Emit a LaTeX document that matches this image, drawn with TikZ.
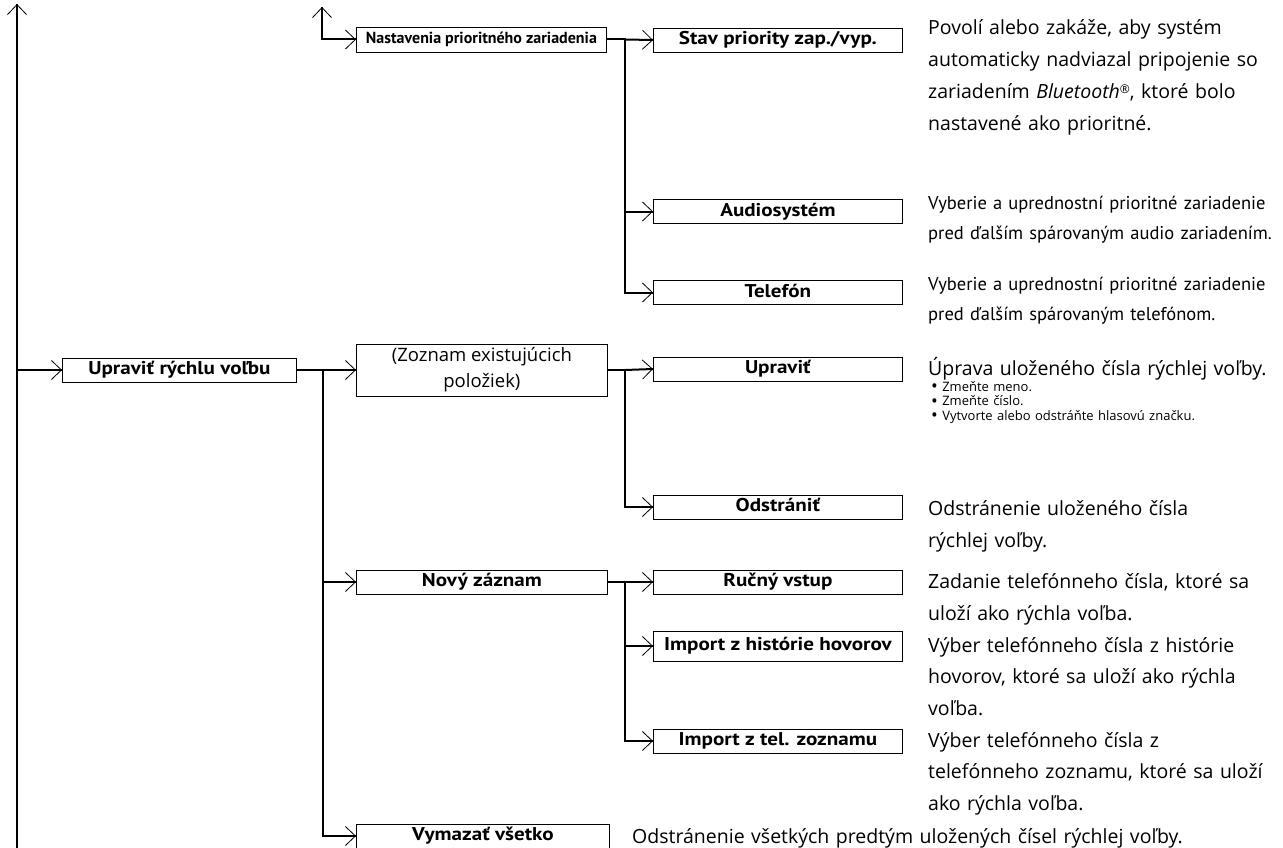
\documentclass[tikz,border=0pt]{standalone}
\usepackage{fontspec}
\setmainfont{PT Sans}
\newfontfamily\descfont{Open Sans}
\newfontfamily\boxfont{PT Sans}[FakeStretch=1.14]
\usetikzlibrary{arrows.meta}

\tikzset{
  menubox/.style={draw, line width=0.8pt, inner sep=0pt, minimum height=24pt, anchor=west,
    text height=13pt, text depth=4pt, font=\boxfont\fontsize{18.5}{22}\selectfont\bfseries},
  trunk/.style={line width=2pt, line cap=rect},
  link/.style={trunk, -{Straight Barb[length=10pt,width=19pt,line width=0.8pt]}},
  note/.style={anchor=base west, inner sep=0pt, text width=420pt, align=left,
    font=\descfont\fontsize{19.5}{32}\selectfont},
  smallnote/.style={note, font=\fontsize{18.5}{30}\selectfont},
}
\newcommand{\dotitem}{\raisebox{-1.8pt}[0pt][0pt]{\fontsize{18}{10}\selectfont\textbullet}\ }

\begin{document}
\begin{tikzpicture}[x=1pt,y=-1pt]
\useasboundingbox (0,0) rectangle (1283,848);

% boxes
\node[menubox, minimum width=234pt] (edit) at (62,370) {Upraviť rýchlu voľbu};
\node[menubox, minimum width=250pt, minimum height=25pt, text height=11pt, text depth=3pt,
  font=\fontsize{16}{18}\selectfont\bfseries] (prio) at (356,39.5) {Nastavenia prioritného zariadenia};
\node[menubox, minimum width=251pt, minimum height=52pt, text height=, text depth=, align=center,
  font=\descfont\fontsize{18.5}{26}\selectfont] (list) at (356,370) {(Zoznam existujúcich\\položiek)};
\node[menubox, minimum width=251pt] (new) at (356,582) {Nový záznam};
\node[menubox, minimum width=253pt] (clear) at (356,836) {Vymazať všetko};

\node[menubox, minimum width=249pt] (stav) at (653,40) {Stav priority zap./vyp.};
\node[menubox, minimum width=249pt] (audio) at (653,211.5) {Audiosystém};
\node[menubox, minimum width=249pt] (phone) at (653,292.5) {Telefón};
\node[menubox, minimum width=249pt] (modify) at (653,369) {Upraviť};
\node[menubox, minimum width=249pt] (delete) at (653,507) {Odstrániť};
\node[menubox, minimum width=249pt] (manual) at (653,582) {Ručný vstup};
\node[menubox, minimum width=249pt, minimum height=30pt] (hist) at (653,646) {Import z histórie hovorov};
\node[menubox, minimum width=249pt] (book) at (653,741) {Import z tel. zoznamu};

% descriptions
\node[note] (stavtxt) at (928,35) {Povolí alebo zakáže, aby systém\\automaticky nadviazal pripojenie so\\zariadením \textit{Bluetooth}{\fontsize{12}{12}\selectfont\raisebox{5pt}{®}}, ktoré bolo\\nastavené ako prioritné.};
\node[smallnote] (audiotxt) at (928,209) {Vyberie a uprednostní prioritné zariadenie\\pred ďalším spárovaným audio zariadením.};
\node[smallnote] (phonetxt) at (928,290) {Vyberie a uprednostní prioritné zariadenie\\pred ďalším spárovaným telefónom.};
\node[note] (modifytxt) at (928,375) {Úprava uloženého čísla rýchlej voľby.};
\node[note, font=\descfont\fontsize{13}{14.5}\selectfont] (modifylist) at (931,391) {\dotitem Zmeňte meno.\\\dotitem Zmeňte číslo.\\\dotitem Vytvorte alebo odstráňte hlasovú značku.};
\node[note] (deletetxt) at (928,515) {Odstránenie uloženého čísla\\rýchlej voľby.};
\node[note] (manualtxt) at (928,588) {Zadanie telefónneho čísla, ktoré sa\\uloží ako rýchla voľba.};
\node[note, font=\descfont\fontsize{19.5}{31.5}\selectfont] (histtxt) at (928,652) {Výber telefónneho čísla z histórie\\hovorov, ktoré sa uloží ako rýchla\\voľba.};
\node[note, font=\descfont\fontsize{19.5}{31.5}\selectfont] (booktxt) at (928,747) {Výber telefónneho čísla z\\telefónneho zoznamu, ktoré sa uloží\\ako rýchla voľba.};
\node[note, text width=650pt] (cleartxt) at (632,843) {Odstránenie všetkých predtým uložených čísel rýchlej voľby.};

% connectors
\coordinate (rootup) at (17,4);
\coordinate (rootdn) at (17,832);
\coordinate (rootend) at (17,848);
\coordinate (rootj) at (17,370);
\draw[link] (rootdn) -- (rootup);
\draw[trunk] ([yshift=7pt]rootdn) -- (rootend);
\draw[link] (rootj) -- (edit.west);

\coordinate (prioj) at (322,39.5);
\coordinate (prioup) at (322,7);
\draw[link] (prioj) -- (prioup);
\draw[link] (prioj) -- (prio.west);

\coordinate (editj) at (323,370);
\draw[trunk] (edit.east) -- (editj);
\draw[link] (editj) -- (list.west);
\draw[link] (editj) |- (new.west);
\draw[link] (editj) |- (clear.west);

\coordinate (stavj) at (625,39.5);
\draw[trunk] (prio.east) -- (stavj);
\draw[link] (stavj) -- (stav.west);
\draw[link] (stavj) |- (audio.west);
\draw[link] (stavj) |- (phone.west);

\coordinate (listj) at (625,370);
\draw[trunk] (list.east) -- (listj);
\draw[link] (listj) -- (modify.west);
\draw[link] (listj) |- (delete.west);

\coordinate (newj) at (625,582);
\draw[trunk] (new.east) -- (newj);
\draw[link] (newj) -- (manual.west);
\draw[link] (newj) |- (hist.west);
\draw[link] (newj) |- (book.west);
\end{tikzpicture}
\end{document}
